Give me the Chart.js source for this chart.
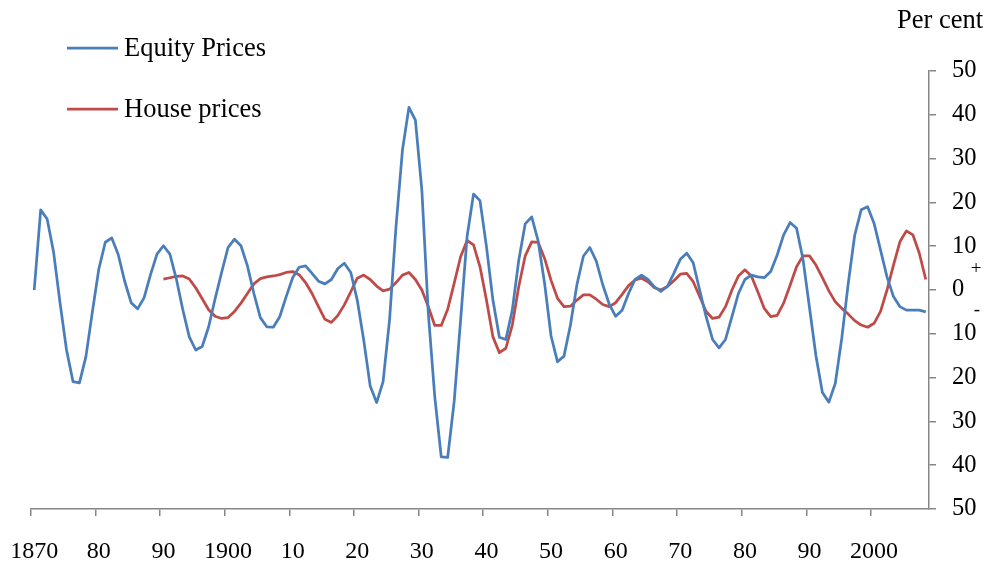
<!DOCTYPE html>
<html>
<head>
<meta charset="utf-8">
<script src="https://cdn.jsdelivr.net/npm/chart.js@4.4.1/dist/chart.umd.min.js"></script>
<style>
  html, body { margin: 0; padding: 0; background: #fff; }
  #wrap { width: 991px; height: 564px; }
</style>
</head>
<body>
<div id="wrap"><canvas id="cycleChart" width="991" height="564"></canvas></div>
<script>
// one category per year, 1870-2008
const years = [];
for (let y = 1870; y <= 2008; y++) years.push(String(y));

const tickLabels = {
  1870: '1870', 1880: '80', 1890: '90', 1900: '1900', 1910: '10', 1920: '20',
  1930: '30', 1940: '40', 1950: '50', 1960: '60', 1970: '70', 1980: '80',
  1990: '90', 2000: '2000'
};

const equityPrices = [
  0, 18.3, 16.2, 8.6, -3, -13.7, -20.9, -21.2, -15.2, -5,        // 1870s
  4.8, 10.9, 11.9, 8.1, 2, -2.9, -4.3, -1.8, 3.5, 8.2,            // 1880s
  10.1, 8.2, 2.5, -4.5, -10.7, -13.7, -12.9, -8.4, -2, 4,         // 1890s
  9.7, 11.6, 10.1, 5.5, -0.8, -6.3, -8.4, -8.5, -6.1, -1.5,       // 1900s
  2.8, 5.2, 5.5, 3.8, 2.0, 1.4, 2.4, 4.9, 6.1, 4.0,               // 1910s
  -2.3, -11.4, -21.9, -25.7, -20.9, -6.8, 14.5, 32, 41.7, 38.8,   // 1920s
  22.8, -5.3, -24.4, -38.1, -38.2, -25.5, -6.8, 12.2, 21.9, 20.4, // 1930s
  9.9, -2.3, -10.8, -11.3, -4.6, 6.8, 15.1, 16.7, 11.2, 1.5,      // 1940s
  -10.5, -16.4, -15.1, -8, 1.2, 7.7, 9.7, 6.6, 1.2, -3.2,         // 1950s
  -6, -4.6, -0.8, 2.4, 3.4, 2.4, 0.7, -0.3, 0.8, 3.8,             // 1960s
  7.0, 8.4, 6.2, 0, -6.1, -11.3, -13.2, -11.3, -6.1, -0.8,        // 1970s
  2.4, 3.4, 3.0, 2.8, 4.2, 8.0, 12.6, 15.4, 14.1, 7,              // 1980s
  -4, -15, -23.4, -25.6, -21.3, -11, 1.5, 12.5, 18.3, 19.0,       // 1990s
  15.2, 9.1, 3.0, -1.5, -3.8, -4.6, -4.6, -4.6, -5.0              // 2000s
];

const housePrices = [
  null, null, null, null, null, null, null, null, null, null,     // 1870s
  null, null, null, null, null, null, null, null, null, null,     // 1880s
  2.5, 2.8, 3.1, 3.2, 2.5, 0.5, -2.0, -4.5, -6.0, -6.5,           // 1890s
  -6.3, -4.9, -3.0, -0.8, 1.4, 2.6, 3.0, 3.2, 3.5, 4.0,           // 1900s
  4.2, 3.5, 1.7, -0.8, -3.8, -6.7, -7.4, -5.8, -3.4, -0.4,        // 1910s
  2.7, 3.4, 2.4, 0.9, -0.2, 0.2, 1.7, 3.4, 4.0, 2.4,              // 1920s
  0, -3.8, -8.1, -8.1, -4.4, 1.5, 7.6, 11.3, 10.3, 5.3,           // 1930s
  -2.3, -10.7, -14.3, -13.3, -8.0, 0.8, 7.8, 11.0, 10.9, 7.2,     // 1940s
  2.2, -1.9, -3.8, -3.7, -2.3, -1.1, -1.1, -2.1, -3.3, -3.8,      // 1950s
  -2.9, -1.0, 1.0, 2.3, 2.7, 1.9, 0.5, 0, 0.8, 2.1,               // 1960s
  3.6, 3.8, 1.9, -1.5, -4.9, -6.5, -6.2, -3.8, 0, 3.2,            // 1970s
  4.6, 3.2, -0.4, -4.2, -6.1, -5.8, -3.0, 1.1, 5.3, 7.8,          // 1980s
  7.8, 5.7, 2.8, -0.2, -2.7, -4.2, -5.5, -7.0, -8.0, -8.5,        // 1990s
  -7.6, -4.9, 0, 5.7, 11.0, 13.5, 12.6, 8.4, 2.4                  // 2000s
];

const blue = '#4a7ebb';
const red = '#be4b48';
const axisGrey = '#868686';
const serif = 'Liberation Serif, Times New Roman, serif';

// legend, unit label and the +/- signs next to zero
const annotations = {
  id: 'annotations',
  afterDraw(chart) {
    const c = chart.ctx;
    const zero = chart.scales.y.getPixelForValue(0);
    c.save();
    c.lineWidth = 2.75;
    c.font = '26.5px ' + serif;
    c.fillStyle = '#000';
    c.textBaseline = 'middle';
    c.textAlign = 'left';
    [['Equity Prices', blue, 48], ['House prices', red, 109]].forEach(function (item) {
      c.strokeStyle = item[1];
      c.beginPath();
      c.moveTo(67, item[2]);
      c.lineTo(118, item[2]);
      c.stroke();
      c.fillText(item[0], 124, item[2] + 1);
    });
    c.fillText('Per cent', 897, 21);
    c.font = '19px ' + serif;
    c.textAlign = 'center';
    c.fillText('+', 976, zero - 21);
    c.fillText('-', 977, zero + 20);
    c.restore();
  }
};

const ctx = document.getElementById('cycleChart').getContext('2d');

const cycleChart = new Chart(ctx, {
  type: 'line',
  data: {
    labels: years,
    datasets: [
      { label: 'Equity Prices', data: equityPrices, borderColor: blue, borderWidth: 2.75 },
      { label: 'House prices', data: housePrices, borderColor: red, borderWidth: 2.75 }
    ]
  },
  options: {
    responsive: false,
    animation: false,
    layout: { padding: { left: 31, top: 71, right: 0, bottom: 0 } },
    elements: { point: { radius: 0 }, line: { tension: 0, borderJoinStyle: 'round' } },
    plugins: { legend: { display: false }, tooltip: { enabled: false } },
    scales: {
      x: {
        type: 'category',
        offset: true,
        grid: {
          offset: true,
          drawOnChartArea: false,
          tickLength: 7,
          lineWidth: 1.5,
          color: function (c) { return c.index !== undefined && c.index % 10 === 0 ? axisGrey : 'rgba(0,0,0,0)'; }
        },
        border: { color: axisGrey, width: 1.5 },
        ticks: {
          autoSkip: false,
          maxRotation: 0,
          minRotation: 0,
          padding: 21,
          color: '#000',
          font: { family: serif, size: 24 },
          callback: function (v, i) { return tickLabels[years[i]] || ''; }
        },
        afterFit: function (s) { s.height = 55; s.paddingLeft = 0; s.paddingRight = 0; }
      },
      y: {
        position: 'right',
        min: -50,
        max: 50,
        grid: { drawOnChartArea: false, tickLength: 7, lineWidth: 1.5, color: axisGrey },
        border: { color: axisGrey, width: 1.5 },
        ticks: {
          stepSize: 10,
          padding: 16,
          color: '#000',
          font: { family: serif, size: 24.5 },
          callback: function (v) { return String(Math.abs(v)); }
        },
        afterFit: function (s) { s.width = 62; }
      }
    }
  },
  plugins: [annotations]
});
</script>
</body>
</html>
